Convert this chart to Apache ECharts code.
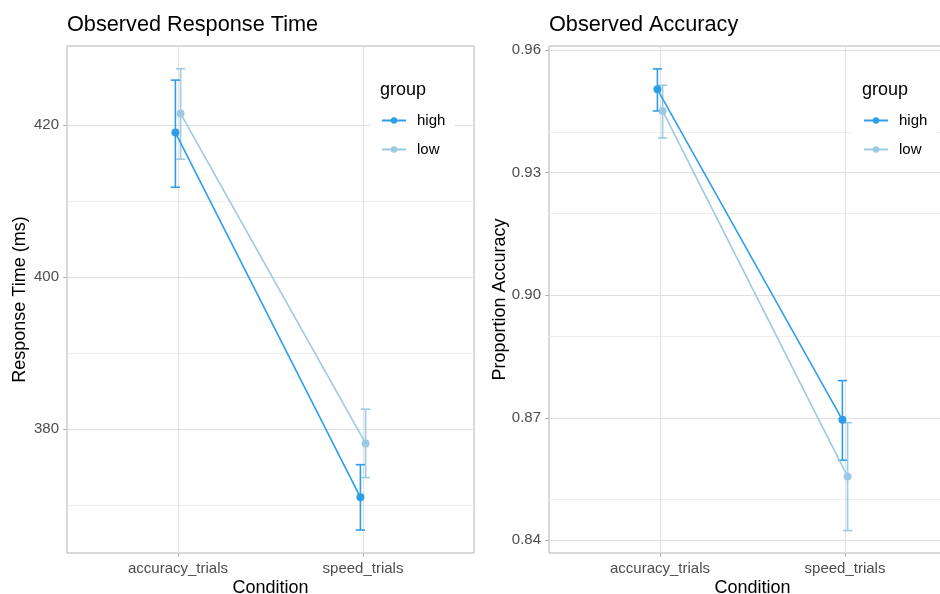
<!DOCTYPE html>
<html><head><meta charset="utf-8">
<script src="https://cdn.jsdelivr.net/npm/echarts@6/dist/echarts.min.js"></script>
<style>html,body{margin:0;padding:0;background:#fff}#c{width:940px;height:594px}</style>
</head><body><div id="c"></div>
<script>
const conditions = ['accuracy_trials', 'speed_trials'];
const groups = ['high', 'low'];
const rtHigh = [419.0, 371.0], rtHighLower = [411.8, 366.7], rtHighUpper = [425.9, 375.3];
const rtLow = [421.5, 378.1], rtLowLower = [415.5, 373.6], rtLowUpper = [427.4, 382.6];
const accHigh = [0.9504, 0.8695], accHighLower = [0.9451, 0.8596], accHighUpper = [0.9554, 0.8791];
const accLow = [0.9451, 0.8556], accLowLower = [0.9385, 0.8424], accLowUpper = [0.9514, 0.8688];
const rtTicks = [380, 400, 420], rtMinor = [370, 390, 410];
const accTicks = [0.84, 0.87, 0.90, 0.93, 0.96], accMinor = [0.855, 0.885, 0.915, 0.945];

const COLORS = {high: '#2f9ee8', low: '#9ccae3'};
const DODGE = {high: -0.014, low: 0.014};
const CAP = 0.025;
const FONT = '"Liberation Sans", Arial, sans-serif';
const GRID_MAJOR = '#e0e0e0', GRID_MINOR = '#ededed', BORDER = '#b3b3b3';

function errRender(params, api) {
  const x = api.value(0), lo = api.value(1), hi = api.value(2);
  const pLo = api.coord([x, lo]), pHi = api.coord([x, hi]);
  const l = api.coord([x - CAP, hi])[0], r = api.coord([x + CAP, hi])[0];
  const style = {stroke: api.visual('color'), lineWidth: 1.6, fill: null};
  return {type: 'group', children: [
    {type: 'line', shape: {x1: pLo[0], y1: pLo[1], x2: pHi[0], y2: pHi[1]}, style: style},
    {type: 'line', shape: {x1: l, y1: pHi[1], x2: r, y2: pHi[1]}, style: style},
    {type: 'line', shape: {x1: l, y1: pLo[1], x2: r, y2: pLo[1]}, style: style}
  ]};
}

function pts(vals, g) { return vals.map((v, i) => [i + 1 + DODGE[g], v]); }
function errs(lo, hi, g) { return lo.map((v, i) => [i + 1 + DODGE[g], v, hi[i]]); }

function gridSeries(idx, major, minor) {
  const lines = [];
  minor.forEach(v => lines.push({yAxis: v, lineStyle: {color: GRID_MINOR, width: 1}}));
  major.forEach(v => lines.push({yAxis: v, lineStyle: {color: GRID_MAJOR, width: 1}}));
  [1, 2].forEach(v => lines.push({xAxis: v, lineStyle: {color: GRID_MAJOR, width: 1}}));
  return {
    type: 'line', xAxisIndex: idx, yAxisIndex: idx, data: [[1, major[0]]],
    symbol: 'none', lineStyle: {opacity: 0}, silent: true, z: 0, legendHoverLink: false,
    tooltip: {show: false},
    markLine: {silent: true, z: 0, symbol: ['none', 'none'], label: {show: false}, animation: false,
      lineStyle: {type: 'solid'}, data: lines}
  };
}

function panelSeries(idx, hv, hlo, hhi, lv, llo, lhi) {
  const s = [gridSeries(idx, idx === 0 ? rtTicks : accTicks, idx === 0 ? rtMinor : accMinor)];
  const d = {high: [hv, hlo, hhi], low: [lv, llo, lhi]};
  groups.forEach(g => {
    s.push({
      name: g, type: 'line', xAxisIndex: idx, yAxisIndex: idx, data: pts(d[g][0], g),
      symbol: 'circle', symbolSize: 8, showSymbol: true,
      lineStyle: {color: COLORS[g], width: 1.6}, itemStyle: {color: COLORS[g]}, z: 3, animation: false
    });
    s.push({
      name: g, type: 'custom', xAxisIndex: idx, yAxisIndex: idx, data: errs(d[g][1], d[g][2], g),
      renderItem: errRender, itemStyle: {color: COLORS[g]}, encode: {x: 0, y: [1, 2]}, z: 3, animation: false
    });
  });
  return s;
}

function xAxis(idx) {
  return {
    type: 'value', gridIndex: idx, min: 0.4, max: 2.6,
    axisLine: {show: false},
    axisTick: {show: true, customValues: [1, 2], length: 4, lineStyle: {color: BORDER}},
    axisLabel: {customValues: [1, 2], formatter: v => conditions[Math.round(v) - 1] || '',
      color: '#4d4d4d', fontSize: 15, fontFamily: FONT, margin: 8},
    splitLine: {show: false},
    name: 'Condition', nameLocation: 'middle', nameGap: 26, nameMoveOverlap: false,
    nameTextStyle: {color: '#000', fontSize: 18, fontFamily: FONT}
  };
}

function yAxis(idx, min, max, ticks, name, gap, dec) {
  return {
    type: 'value', gridIndex: idx, min: min, max: max,
    axisLine: {show: false},
    axisTick: {show: true, customValues: ticks, length: 4, lineStyle: {color: BORDER}},
    axisLabel: {customValues: ticks, formatter: v => v.toFixed(dec),
      color: '#4d4d4d', fontSize: 15, fontFamily: FONT, margin: 8},
    splitLine: {show: false},
    name: name, nameLocation: 'middle', nameGap: gap, nameRotate: 90, nameMoveOverlap: false,
    nameTextStyle: {color: '#000', fontSize: 18, fontFamily: FONT}
  };
}

function legend(left) {
  return {
    orient: 'vertical', left: left, top: 113, itemWidth: 24, itemHeight: 8, itemGap: 14,
    data: groups, selectedMode: false, padding: 0, z: 6,
    textStyle: {fontSize: 15, fontFamily: FONT, color: '#000', padding: [0, 0, 0, 6]}
  };
}

const option = {
  backgroundColor: '#fff',
  animation: false,
  title: [
    {text: 'Observed Response Time', left: 67, top: 14, padding: 0, textStyle: {fontSize: 21.7, fontWeight: 'normal', color: '#000', fontFamily: FONT}},
    {text: 'Observed Accuracy', left: 549, top: 14, padding: 0, textStyle: {fontSize: 21.7, fontWeight: 'normal', color: '#000', fontFamily: FONT}}
  ],
  grid: [
    {left: 67, top: 46, width: 407, height: 507, outerBoundsMode: 'none', containLabel: false, show: true, borderColor: BORDER, borderWidth: 1, backgroundColor: 'transparent'},
    {left: 549, top: 46, width: 407, height: 507, outerBoundsMode: 'none', containLabel: false, show: true, borderColor: BORDER, borderWidth: 1, backgroundColor: 'transparent'}
  ],
  xAxis: [xAxis(0), xAxis(1)],
  yAxis: [
    yAxis(0, 363.68, 430.39, rtTicks, 'Response Time (ms)', 38, 0),
    yAxis(1, 0.8369, 0.9610, accTicks, 'Proportion Accuracy', 40, 2)
  ],
  legend: [legend(381), legend(863)],
  graphic: [
    {type: 'rect', left: 370, top: 70, z: 1, shape: {width: 85, height: 96}, style: {fill: '#fff'}},
    {type: 'rect', left: 852, top: 70, z: 1, shape: {width: 85, height: 96}, style: {fill: '#fff'}},
    {type: 'text', left: 380, top: 81, z: 5, style: {text: 'group', fontSize: 18, fontFamily: FONT, fill: '#000'}},
    {type: 'text', left: 862, top: 81, z: 5, style: {text: 'group', fontSize: 18, fontFamily: FONT, fill: '#000'}}
  ],
  series: [].concat(
    panelSeries(0, rtHigh, rtHighLower, rtHighUpper, rtLow, rtLowLower, rtLowUpper),
    panelSeries(1, accHigh, accHighLower, accHighUpper, accLow, accLowLower, accLowUpper)
  )
};
const chart = echarts.init(document.getElementById('c'), null, {renderer: 'canvas'});
chart.setOption(option);
</script></body></html>
